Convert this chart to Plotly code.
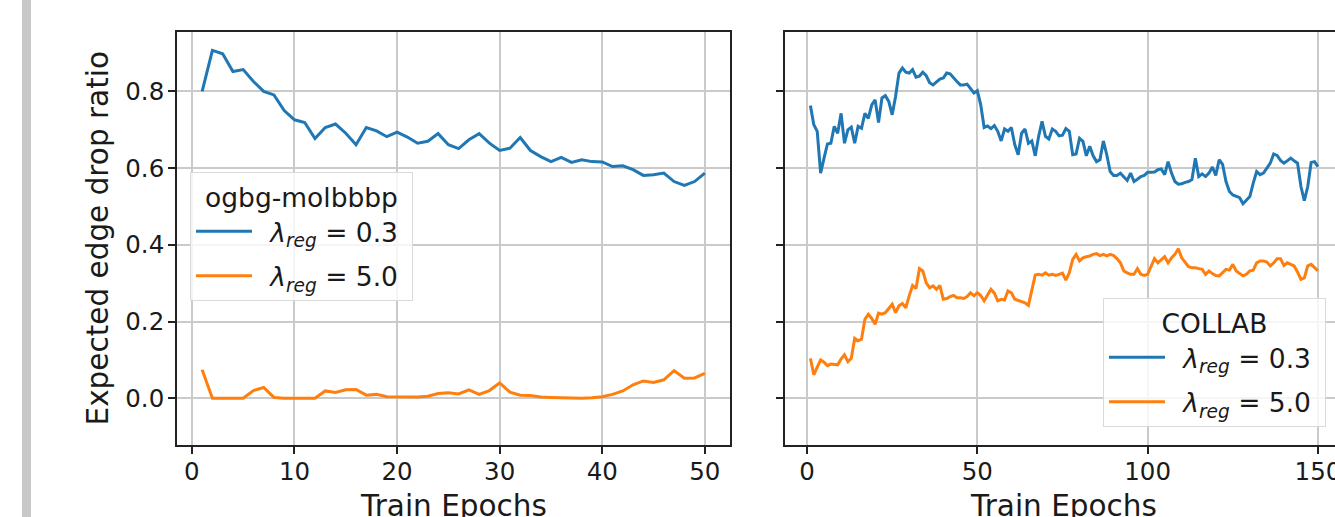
import plotly.graph_objects as go

# ---------------- data ----------------
molbbbp_epochs = list(range(1, 51))
molbbbp_lam03 = [0.800, 0.907, 0.898, 0.852, 0.857, 0.826, 0.800, 0.791, 0.750, 0.726,
                 0.719, 0.677, 0.706, 0.715, 0.691, 0.661, 0.706, 0.697, 0.682, 0.694,
                 0.681, 0.665, 0.670, 0.690, 0.661, 0.651, 0.674, 0.690, 0.665, 0.646,
                 0.652, 0.680, 0.646, 0.630, 0.617, 0.628, 0.615, 0.622, 0.617, 0.616,
                 0.604, 0.606, 0.596, 0.581, 0.583, 0.587, 0.565, 0.555, 0.565, 0.587]
molbbbp_lam50 = [0.074, 0.000, 0.000, 0.000, 0.000, 0.020, 0.028, 0.002, 0.000, 0.000,
                 0.000, 0.000, 0.019, 0.015, 0.022, 0.023, 0.008, 0.010, 0.004, 0.004,
                 0.003, 0.003, 0.005, 0.012, 0.014, 0.011, 0.022, 0.010, 0.020, 0.040,
                 0.016, 0.008, 0.007, 0.003, 0.002, 0.001, 0.000, 0.000, 0.001, 0.004,
                 0.010, 0.019, 0.035, 0.045, 0.041, 0.048, 0.072, 0.052, 0.053, 0.065]

collab_epochs = list(range(1, 151))
collab_lam03 = [0.763, 0.713, 0.696, 0.587, 0.626, 0.663, 0.665, 0.709, 0.691, 0.743,
                0.665, 0.700, 0.707, 0.665, 0.709, 0.704, 0.743, 0.730, 0.765, 0.778,
                0.719, 0.783, 0.789, 0.774, 0.739, 0.787, 0.848, 0.861, 0.850, 0.848,
                0.857, 0.837, 0.840, 0.850, 0.841, 0.823, 0.817, 0.824, 0.832, 0.835,
                0.848, 0.846, 0.835, 0.826, 0.817, 0.817, 0.819, 0.806, 0.796, 0.802,
                0.765, 0.706, 0.710, 0.703, 0.711, 0.696, 0.671, 0.702, 0.696, 0.706,
                0.661, 0.635, 0.691, 0.702, 0.665, 0.671, 0.632, 0.683, 0.722, 0.683,
                0.676, 0.702, 0.696, 0.684, 0.686, 0.703, 0.696, 0.635, 0.637, 0.678,
                0.670, 0.632, 0.657, 0.632, 0.617, 0.622, 0.671, 0.635, 0.591, 0.581,
                0.581, 0.587, 0.578, 0.568, 0.587, 0.565, 0.571, 0.578, 0.581, 0.589,
                0.589, 0.590, 0.596, 0.598, 0.583, 0.617, 0.587, 0.565, 0.558, 0.559,
                0.563, 0.565, 0.570, 0.626, 0.578, 0.585, 0.578, 0.587, 0.603, 0.581,
                0.622, 0.610, 0.565, 0.539, 0.530, 0.526, 0.523, 0.507, 0.517, 0.526,
                0.561, 0.591, 0.583, 0.587, 0.600, 0.613, 0.637, 0.633, 0.620, 0.613,
                0.619, 0.626, 0.619, 0.613, 0.552, 0.515, 0.552, 0.615, 0.617, 0.604]
collab_lam50 = [0.104, 0.061, 0.081, 0.100, 0.094, 0.085, 0.089, 0.087, 0.087, 0.102,
                0.113, 0.095, 0.104, 0.156, 0.150, 0.154, 0.206, 0.219, 0.208, 0.193,
                0.222, 0.219, 0.223, 0.234, 0.245, 0.223, 0.241, 0.247, 0.236, 0.267,
                0.294, 0.286, 0.338, 0.332, 0.301, 0.288, 0.293, 0.284, 0.294, 0.258,
                0.260, 0.265, 0.268, 0.262, 0.262, 0.260, 0.265, 0.275, 0.267, 0.275,
                0.268, 0.254, 0.271, 0.284, 0.274, 0.254, 0.258, 0.256, 0.280, 0.275,
                0.258, 0.255, 0.251, 0.249, 0.242, 0.280, 0.321, 0.323, 0.321, 0.327,
                0.321, 0.323, 0.320, 0.323, 0.326, 0.308, 0.327, 0.362, 0.375, 0.358,
                0.366, 0.369, 0.371, 0.375, 0.377, 0.372, 0.375, 0.371, 0.375, 0.372,
                0.364, 0.353, 0.332, 0.327, 0.323, 0.323, 0.338, 0.323, 0.320, 0.323,
                0.345, 0.364, 0.353, 0.362, 0.369, 0.353, 0.366, 0.375, 0.390, 0.366,
                0.355, 0.343, 0.340, 0.340, 0.338, 0.336, 0.323, 0.332, 0.325, 0.320,
                0.319, 0.327, 0.336, 0.334, 0.349, 0.332, 0.326, 0.319, 0.323, 0.332,
                0.334, 0.353, 0.358, 0.358, 0.355, 0.345, 0.353, 0.364, 0.364, 0.346,
                0.353, 0.349, 0.345, 0.329, 0.310, 0.314, 0.345, 0.349, 0.340, 0.332]

series_labels = ["\u2002<i>λ</i><sub><i>reg</i></sub> = 0.3\u00a0",
                 "\u2002<i>λ</i><sub><i>reg</i></sub> = 5.0\u00a0"]
legend_titles = ["ogbg-molbbbp", "COLLAB"]
x_title = "Train Epochs"
y_title = "Expected edge drop ratio"
left_ticks = [0, 10, 20, 30, 40, 50]
right_ticks = [0, 50, 100, 150]
y_ticks = [0.0, 0.2, 0.4, 0.6, 0.8]
y_tick_text = ["0.0", "0.2", "0.4", "0.6", "0.8"]

# ---------------- style ----------------
W, H = 1335, 517
BLUE, ORANGE = "#1f77b4", "#ff7f0e"
FONT = "DejaVu Sans"
TICK_SIZE = 24.5
LEGEND_SIZE = 26.5
TITLE_SIZE = 29.5
INK = "#1a1a1a"
GRID = "#cacaca"


def px_x(p):
    return p / W


def px_y(p):
    return 1 - p / H


fig = go.Figure()

fig.add_trace(go.Scatter(x=molbbbp_epochs, y=molbbbp_lam03, mode="lines", name=series_labels[0],
                         line=dict(color=BLUE, width=3), xaxis="x", yaxis="y",
                         legend="legend", legendgroup="a"))
fig.add_trace(go.Scatter(x=molbbbp_epochs, y=molbbbp_lam50, mode="lines", name=series_labels[1],
                         line=dict(color=ORANGE, width=3), xaxis="x", yaxis="y",
                         legend="legend", legendgroup="b"))
fig.add_trace(go.Scatter(x=collab_epochs, y=collab_lam03, mode="lines", name=series_labels[0],
                         line=dict(color=BLUE, width=3), xaxis="x2", yaxis="y2",
                         legend="legend2", legendgroup="c"))
fig.add_trace(go.Scatter(x=collab_epochs, y=collab_lam50, mode="lines", name=series_labels[1],
                         line=dict(color=ORANGE, width=3), xaxis="x2", yaxis="y2",
                         legend="legend2", legendgroup="d"))

y_dom = [px_y(445), px_y(32)]
common_axis = dict(
    showgrid=True, gridcolor=GRID, gridwidth=1.5, zeroline=False,
    showline=True, linecolor="#222222", linewidth=1.7,
    ticks="outside", ticklen=7, tickwidth=1.7, tickcolor="#222222",
    tickfont=dict(family=FONT, size=TICK_SIZE, color=INK),
    automargin=False, ticklabeloverflow="allow",
)

legend_common = dict(
    xanchor="left", yanchor="top",
    bgcolor="rgba(255,255,255,0.8)", bordercolor="#dadada", borderwidth=1,
    font=dict(family=FONT, size=LEGEND_SIZE, color=INK),
    tracegroupgap=7, itemwidth=56,
)

fig.update_layout(
    width=W, height=H,
    margin=dict(l=0, r=0, t=0, b=0),
    paper_bgcolor="white", plot_bgcolor="white",
    font=dict(family=FONT, color=INK),
    hovermode=False,
    xaxis=dict(domain=[px_x(177), px_x(730)], range=[-1.45, 52.45], anchor="y",
               tickmode="array", tickvals=left_ticks, mirror=True,
               ticklabelstandoff=-3, **common_axis),
    yaxis=dict(domain=y_dom, range=[-0.122, 0.955], anchor="x",
               tickmode="array", tickvals=y_ticks, ticktext=y_tick_text, mirror=True,
               ticklabelstandoff=-1, **common_axis),
    xaxis2=dict(domain=[px_x(785), 1.0], range=[-6.46, 155.0], anchor="y2",
                tickmode="array", tickvals=right_ticks, mirror=True,
                ticklabelstandoff=-3, **common_axis),
    yaxis2=dict(domain=y_dom, range=[-0.122, 0.955], anchor="x2",
                tickmode="array", tickvals=y_ticks, showticklabels=False, mirror=False,
                **common_axis),
    legend=dict(
        x=px_x(190), y=px_y(172),
        title=dict(text=legend_titles[0], side="top center",
                   font=dict(family=FONT, size=LEGEND_SIZE, color=INK)),
        **legend_common,
    ),
    legend2=dict(
        x=px_x(1103), y=px_y(298),
        title=dict(text=legend_titles[1], side="top center",
                   font=dict(family=FONT, size=LEGEND_SIZE, color=INK)),
        **legend_common,
    ),
    shapes=[dict(type="rect", xref="paper", yref="paper",
                 x0=px_x(22), x1=px_x(31), y0=0, y1=1,
                 fillcolor="#c8c8c8", line=dict(width=0), layer="below")],
    annotations=[
        dict(text=y_title, xref="paper", yref="paper", x=px_x(97), y=px_y(238.5),
             xanchor="center", yanchor="middle", textangle=-90, showarrow=False,
             font=dict(family=FONT, size=TITLE_SIZE, color=INK)),
        dict(text=x_title, xref="paper", yref="paper", x=px_x(453.5), y=px_y(506),
             xanchor="center", yanchor="middle", showarrow=False,
             font=dict(family=FONT, size=TITLE_SIZE, color=INK)),
        dict(text=x_title, xref="paper", yref="paper", x=px_x(1063.5), y=px_y(506),
             xanchor="center", yanchor="middle", showarrow=False,
             font=dict(family=FONT, size=TITLE_SIZE, color=INK)),
    ],
)

fig.write_html("out.html", config={"displayModeBar": False},
               post_script="document.body.style.margin='0px';")
